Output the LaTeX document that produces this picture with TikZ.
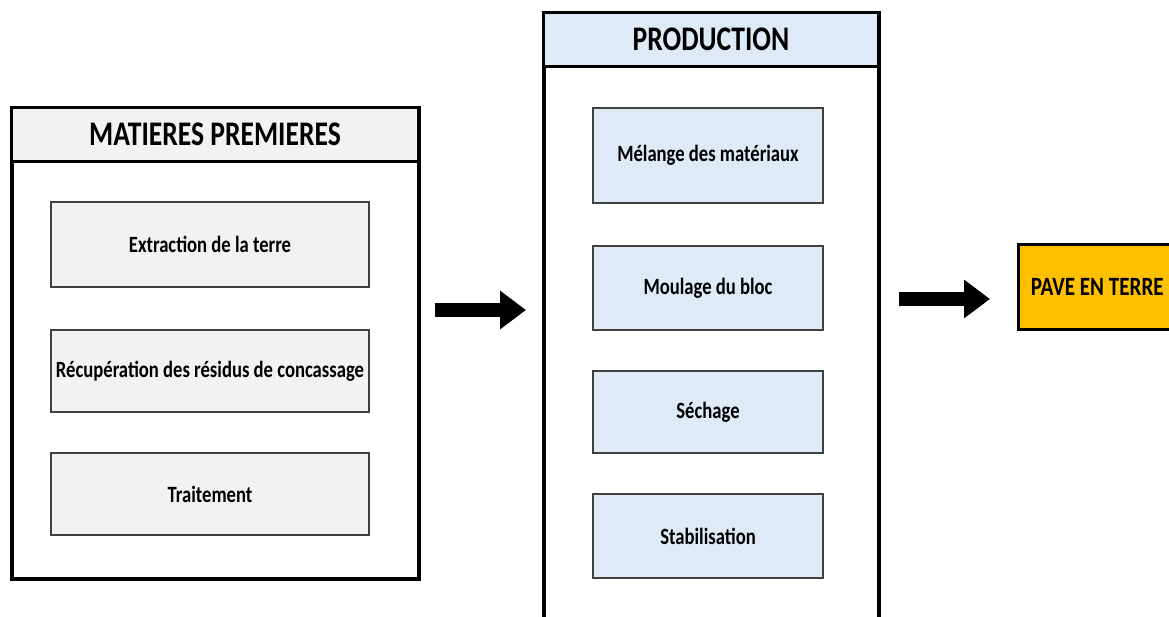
\documentclass[tikz,border=0pt]{standalone}
\usepackage{fontspec}
\newfontfamily\boxfont{Carlito}[FakeStretch=0.8]
\usepackage{tikz}
\usetikzlibrary{positioning}
\usetikzlibrary{arrows.meta}

\definecolor{greyfill}{HTML}{F2F2F2}
\definecolor{bluefill}{HTML}{DEEBF7}
\definecolor{orangefill}{HTML}{FFC000}
\definecolor{innerline}{HTML}{404040}

\tikzset{
	outerbox/.style={draw=black, line width=3.5pt, fill=white, anchor=north west, inner sep=0pt},
	headbox/.style={draw=black, line width=3pt, anchor=north west, inner sep=0pt,
		font=\boxfont\fontsize{34.5}{38}\selectfont\bfseries},
	stepbox/.style={draw=innerline, line width=1.5pt, inner sep=0pt,
		font=\boxfont\fontsize{23.3}{26}\selectfont\bfseries},
	resultbox/.style={draw=black, line width=2.5pt, fill=orangefill, anchor=north west, inner sep=0pt,
		font=\boxfont\fontsize{26.4}{29}\selectfont\bfseries},
	bigarrow/.style={line width=14pt, -{Triangle[length=26pt,width=37pt]}},
}

\begin{document}
\begin{tikzpicture}[x=1pt,y=-1pt]
	\useasboundingbox (0,0) rectangle (1169,616);

	% ---------------------
	% Raw materials block
	\node[outerbox, minimum width=407pt, minimum height=471pt] (mp) at (10,106) {};
	\node[headbox, fill=greyfill, minimum width=407pt, minimum height=54pt] (mpHead) at (mp.north west) {MATIERES PREMIERES};

	\node[stepbox, fill=greyfill, minimum width=318pt, minimum height=85pt] (extraction) at (210,244.5) {Extraction de la terre};
	\node[stepbox, fill=greyfill, minimum width=318pt, minimum height=82pt] (residus) at (210,371) {Récupération des résidus de concassage};
	\node[stepbox, fill=greyfill, minimum width=318pt, minimum height=82pt] (traitement) at (210,494) {Traitement};

	% ---------------------
	% Production block
	\node[outerbox, minimum width=335pt, minimum height=630pt] (prod) at (542,11) {};
	\node[headbox, fill=bluefill, minimum width=335pt, minimum height=54pt] (prodHead) at (prod.north west) {PRODUCTION};

	\node[stepbox, fill=bluefill, minimum width=230pt, minimum height=95pt] (melange) at (708,155.5) {Mélange des matériaux};
	\node[stepbox, fill=bluefill, minimum width=230pt, minimum height=84pt] (moulage) at (708,288) {Moulage du bloc};
	\node[stepbox, fill=bluefill, minimum width=230pt, minimum height=82pt] (sechage) at (708,412) {Séchage};
	\node[stepbox, fill=bluefill, minimum width=230pt, minimum height=84pt] (stabilisation) at (708,536) {Stabilisation};

	% ---------------------
	% Final product
	\node[resultbox, minimum width=158pt, minimum height=85pt] (pave) at (1017,243) {PAVE EN TERRE};

	% ------------------------------------------------
	% Arrows
	\coordinate (rowA) at (0,310);
	\coordinate (rowB) at (0,299);
	\draw[bigarrow, shorten <=14pt, shorten >=16pt] (mp.east |- rowA) -- (prod.west |- rowA);
	\draw[bigarrow, shorten <=18pt, shorten >=27pt] (prod.east |- rowB) -- (pave.west |- rowB);

\end{tikzpicture}
\end{document}
